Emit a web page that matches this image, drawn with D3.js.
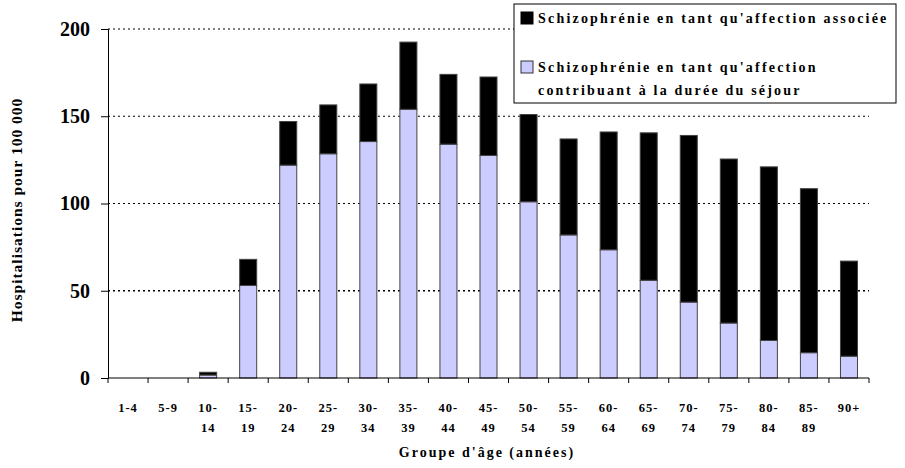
<!DOCTYPE html>
<html>
<head>
<meta charset="utf-8">
<script src="https://cdn.jsdelivr.net/npm/d3@7"></script>
<style>
  body { margin: 0; background: #fff; }
  text { font-family: "Liberation Serif", "Times New Roman", serif; font-weight: bold; }
</style>
</head>
<body>
<svg id="chart" width="905" height="468"></svg>
<script>
// age groups, two lines per label
var groups = ['1-4', '5-9', '10-14', '15-19', '20-24', '25-29', '30-34', '35-39', '40-44', '45-49',
  '50-54', '55-59', '60-64', '65-69', '70-74', '75-79', '80-84', '85-89', '90+']
var tickLines = [['1-4'], ['5-9'], ['10-', '14'], ['15-', '19'], ['20-', '24'], ['25-', '29'], ['30-', '34'],
  ['35-', '39'], ['40-', '44'], ['45-', '49'], ['50-', '54'], ['55-', '59'], ['60-', '64'], ['65-', '69'],
  ['70-', '74'], ['75-', '79'], ['80-', '84'], ['85-', '89'], ['90+']]
// contributing to length of stay (light part)
var contributing = [0, 0, 1.7, 53, 122, 128.5, 135.5, 154, 134, 127.5, 101, 82, 73.5, 56, 43.5, 31.5, 21.5, 14.5, 12.5]
// associated condition (black part, on top)
var associated = [0, 0, 1.6, 15, 25, 28, 33, 38.5, 40, 45, 50, 55, 67.5, 84.5, 95.5, 94, 99.5, 94, 54.5]
var yTicks = [0, 50, 100, 150, 200]
var seriesNames = ["Schizophrénie en tant qu'affection associée",
  ["Schizophrénie en tant qu'affection", 'contribuant à la durée du séjour']]
var colors = ['#000000', '#CCCCFF']

var svg = d3.select('#chart')
var mLeft = 108, mRight = 869, mTop = 29, mBottom = 378

var x = d3.scaleBand().domain(groups).range([mLeft, mRight]).paddingInner(0.575).paddingOuter(0.2875)
var xb = d3.scaleBand().domain(groups).range([mLeft, mRight])
var y = d3.scaleLinear().domain([0, 200]).range([mBottom, mTop])

/** gridlines */
svg.append('g').selectAll('line').data(yTicks.filter(function (d) { return d > 0 })).enter().append('line')
  .attr('x1', mLeft).attr('x2', mRight)
  .attr('y1', function (d) { return y(d) }).attr('y2', function (d) { return y(d) })
  .style('stroke', '#000')
  .style('stroke-width', function (d) { return d == 50 ? 1.6 : 1 })
  .style('stroke-dasharray', '2,3')

/** stacked bars */
var stackData = groups.map(function (g, i) { return {g: g, c: contributing[i], a: associated[i]} })
var stack = d3.stack().keys(['c', 'a'])(stackData)
svg.append('g').selectAll('g').data(stack).enter().append('g')
  .attr('fill', function (d, i) { return colors[1 - i] })
  .selectAll('rect').data(function (d) { return d.filter(function (p) { return p[1] - p[0] > 0 }) }).enter().append('rect')
  .attr('x', function (d) { return x(d.data.g) })
  .attr('width', x.bandwidth())
  .attr('y', function (d) { return y(d[1]) })
  .attr('height', function (d) { return y(d[0]) - y(d[1]) })
  .style('stroke', '#444').style('stroke-width', 1)

/** y axis */
var yAxis = svg.append('g').attr('transform', 'translate(' + mLeft + ',0)')
  .call(d3.axisLeft(y).tickValues(yTicks).tickSize(7).tickPadding(11))
yAxis.selectAll('path, line').style('stroke', '#000')
yAxis.selectAll('text').style('font-size', '20px').style('font-family', '"Liberation Serif", serif').style('font-weight', 'bold')

/** x axis with boundary ticks */
var xAxisG = svg.append('g')
xAxisG.append('line').attr('x1', mLeft).attr('x2', mRight).attr('y1', mBottom).attr('y2', mBottom).style('stroke', '#000')
var bounds = groups.map(function (g) { return xb(g) }).concat([mRight])
xAxisG.selectAll('line.tk').data(bounds).enter().append('line').attr('class', 'tk')
  .attr('x1', function (d) { return d }).attr('x2', function (d) { return d })
  .attr('y1', mBottom).attr('y2', mBottom + 5).style('stroke', '#000')

var lbl = svg.append('g').selectAll('text').data(groups).enter().append('text')
  .attr('x', function (d) { return xb(d) + xb.bandwidth() / 2 })
  .attr('y', 412)
  .attr('text-anchor', 'middle')
  .style('font-size', '12.5px').style('letter-spacing', '1px')
lbl.selectAll('tspan').data(function (d, i) { return tickLines[i] }).enter().append('tspan')
  .attr('x', function () { return d3.select(this.parentNode).attr('x') })
  .attr('dy', function (d, i) { return i == 0 ? 0 : 20 })
  .text(function (d) { return d })

/** axis titles */
svg.append('text').attr('x', 487).attr('y', 457).attr('text-anchor', 'middle')
  .style('font-size', '14px').style('letter-spacing', '2px').text("Groupe d'âge (années)")
svg.append('text').attr('transform', 'translate(22,210) rotate(-90)').attr('text-anchor', 'middle')
  .style('font-size', '15.5px').style('letter-spacing', '1px').text('Hospitalisations pour 100 000')

/** legend */
var lg = svg.append('g')
lg.append('rect').attr('x', 514).attr('y', 4).attr('width', 382).attr('height', 99)
  .style('fill', '#fff').style('stroke', '#000').style('stroke-width', 1)
lg.append('rect').attr('x', 521).attr('y', 12).attr('width', 12).attr('height', 12).style('fill', colors[0]).style('stroke', '#000')
lg.append('text').attr('x', 538).attr('y', 23).style('font-size', '14px').style('letter-spacing', '2.2px').text(seriesNames[0])
lg.append('rect').attr('x', 521).attr('y', 61).attr('width', 12).attr('height', 12).style('fill', colors[1]).style('stroke', '#333')
lg.append('text').attr('x', 538).attr('y', 72).style('font-size', '14px').style('letter-spacing', '2.2px').text(seriesNames[1][0])
lg.append('text').attr('x', 538).attr('y', 95).style('font-size', '14px').style('letter-spacing', '2.2px').text(seriesNames[1][1])
</script>
</body>
</html>
